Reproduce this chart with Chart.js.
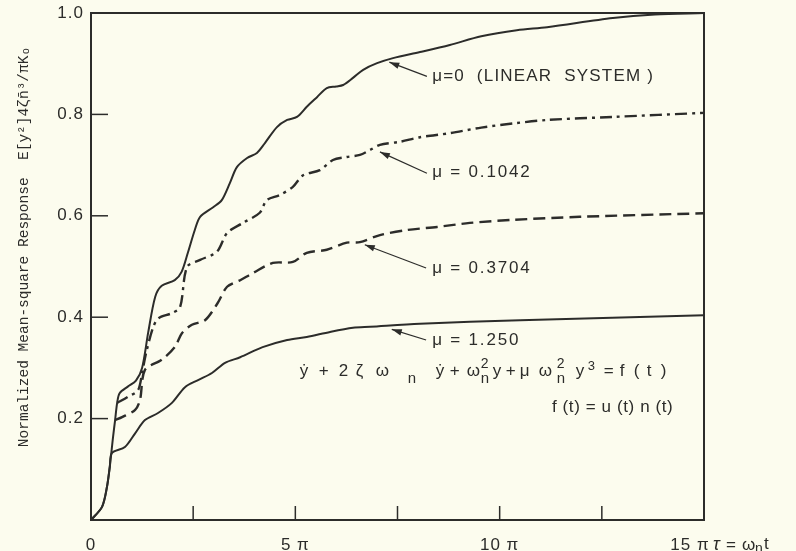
<!DOCTYPE html>
<html><head><meta charset="utf-8">
<script src="https://cdn.jsdelivr.net/npm/chart.js@4"></script>
<style>html,body{margin:0;padding:0;background:#fcfcee;overflow:hidden}canvas{display:block}</style>
</head><body>
<canvas id="c" width="796" height="551"></canvas>
<script>
// ---- data (x in units of pi, y normalized mean-square response) ----
const mu0_t = [0,0.27,0.39,0.46,0.54,0.59,0.64,0.7,0.9,1.1,1.25,1.4,1.57,1.73,2.05,2.22,2.37,2.54,2.67,2.99,3.2,3.4,3.57,3.82,4.06,4.26,4.55,4.8,5.04,5.28,5.53,5.77,6.0,6.17,6.41,6.66,7.0,7.39,8.05,8.78,9.55,10.42,11.16,12.77,13.8,15];
const mu0_v = [0,0.026,0.065,0.105,0.164,0.197,0.231,0.25,0.263,0.275,0.30,0.37,0.44,0.462,0.473,0.49,0.527,0.572,0.598,0.617,0.631,0.665,0.696,0.714,0.724,0.744,0.775,0.789,0.795,0.815,0.834,0.852,0.855,0.858,0.872,0.888,0.901,0.911,0.923,0.937,0.954,0.966,0.972,0.99,0.997,1.0];

const mu1042_t = [0.64,0.9,1.15,1.25,1.35,1.52,1.65,1.98,2.18,2.35,2.67,3.08,3.33,3.72,4.13,4.3,4.62,4.94,5.19,5.6,5.92,6.26,6.58,6.83,7.07,7.56,8.05,8.78,9.55,10.42,11.16,12.77,15];
const mu1042_v = [0.231,0.243,0.256,0.29,0.33,0.38,0.398,0.408,0.42,0.499,0.513,0.529,0.566,0.586,0.606,0.631,0.641,0.657,0.68,0.69,0.71,0.716,0.72,0.73,0.74,0.746,0.755,0.763,0.774,0.783,0.789,0.795,0.803];

const mu3704_t = [0.59,0.76,1.08,1.2,1.32,1.73,2.05,2.23,2.47,2.79,3.1,3.33,3.65,3.96,4.45,4.94,5.28,5.77,6.26,6.58,7.07,7.73,8.47,9.27,10.33,11.96,15];
const mu3704_v = [0.197,0.203,0.217,0.237,0.296,0.316,0.341,0.369,0.385,0.394,0.428,0.46,0.473,0.487,0.507,0.509,0.527,0.533,0.547,0.548,0.562,0.572,0.578,0.586,0.592,0.598,0.605];

const mu125_t = [0,0.27,0.39,0.46,0.51,0.83,1.08,1.32,1.64,1.98,2.3,2.62,2.96,3.28,3.65,4.2,4.8,5.28,5.85,6.41,6.83,8.05,10.5,15];
const mu125_v = [0,0.026,0.065,0.105,0.132,0.144,0.171,0.197,0.211,0.231,0.262,0.276,0.29,0.31,0.321,0.341,0.355,0.361,0.371,0.379,0.381,0.387,0.394,0.404];

const xTickValues = [0,2.5,5,7.5,10,12.5,15];
const xTickLabels = ['0','','5 π','','10 π','','15 π'];
const yTickValues = [0.2,0.4,0.6,0.8,1.0];
const yTickLabels = ['0.2','0.4','0.6','0.8','1.0'];

const seriesLabels = ['μ=0  (LINEAR  SYSTEM )','μ = 0.1042','μ = 0.3704','μ = 1.250'];
const yTitle = 'Normalized Mean-square Response  E[y²]4ζn̄³/πKₒ';

// annotation anchors in data units: arrow tip on curve, arrow tail, text
const notes = [
  {tip:[7.3,0.903], tail:[8.22,0.875], text:[8.35,0.876]},
  {tip:[7.07,0.726], tail:[8.22,0.684], text:[8.35,0.685]},
  {tip:[6.7,0.543], tail:[8.2,0.497], text:[8.35,0.497]},
  {tip:[7.36,0.376], tail:[8.2,0.355], text:[8.35,0.355]}
];

// equation tokens: text, x offset (px from start), kind
const eqTokens = [
  ['ẏ',0],['+',19],['2',39],['ζ',56],['ω',76],['n',108,'sub'],['ẏ',136],['+',150],['ω',167],
  ['2',181,'sup'],['n',181,'sub'],['y',193],['+',206],['μ',220],['ω',239],['2',257,'sup'],['n',257,'sub'],
  ['y',276],['3',288,'sup3'],['=',304],['f',320],['(',334],['t',347],[')',361]
];

const pts = (t,v) => t.map((x,i)=>({x:x,y:v[i]}));
const INK = '#2c2c2a';
const FONT = '"Liberation Sans", Arial, sans-serif';

function arrow(ctx, x0,y0,x1,y1){
  ctx.beginPath(); ctx.moveTo(x0,y0); ctx.lineTo(x1,y1); ctx.stroke();
  const a = Math.atan2(y1-y0,x1-x0), L=10, W=3.2;
  ctx.beginPath();
  ctx.moveTo(x1,y1);
  ctx.lineTo(x1-L*Math.cos(a)+W*Math.sin(a), y1-L*Math.sin(a)-W*Math.cos(a));
  ctx.lineTo(x1-L*Math.cos(a)-W*Math.sin(a), y1-L*Math.sin(a)+W*Math.cos(a));
  ctx.closePath(); ctx.fill();
}

const deco = {
  id:'deco',
  afterDatasetsDraw(chart){
    const ctx = chart.ctx, xs = chart.scales.x, ys = chart.scales.y, a = chart.chartArea;
    ctx.save();
    ctx.strokeStyle = INK; ctx.fillStyle = INK;
    // frame
    ctx.lineWidth = 2;
    ctx.strokeRect(a.left, a.top, a.right-a.left, a.bottom-a.top);
    // ticks
    ctx.lineWidth = 1.5;
    for(const v of xTickValues){
      const px = xs.getPixelForValue(v);
      if(v>0 && v<15){ ctx.beginPath(); ctx.moveTo(px,a.bottom); ctx.lineTo(px,a.bottom-14); ctx.stroke(); }
    }
    for(const v of yTickValues){
      const py = ys.getPixelForValue(v);
      if(v<1){ ctx.beginPath(); ctx.moveTo(a.left,py); ctx.lineTo(a.left+17,py); ctx.stroke(); }
    }
    // tick labels
    ctx.font = '17px '+FONT; ctx.textBaseline='middle';
    ctx.letterSpacing = '1px';
    ctx.textAlign='right';
    yTickValues.forEach((v,i)=>{ ctx.fillText(yTickLabels[i], a.left-7, ys.getPixelForValue(v)); });
    ctx.textAlign='center';
    xTickValues.forEach((v,i)=>{
      if(!xTickLabels[i]) return;
      let px = xs.getPixelForValue(v);
      if(v===15) px -= 14;
      ctx.fillText(xTickLabels[i], px, a.bottom+25);
    });
    ctx.letterSpacing = '0px';
    // x axis title
    ctx.textAlign='left';
    let tx = xs.getPixelForValue(15)+9;
    ctx.font = 'italic 18px '+FONT; ctx.fillText('τ', tx, a.bottom+25); tx += 13;
    ctx.font = '17px '+FONT; ctx.fillText('=', tx, a.bottom+25); tx += 16;
    ctx.fillText('ω', tx, a.bottom+25); tx += 13;
    ctx.font = '14px '+FONT; ctx.fillText('n', tx, a.bottom+29); tx += 9;
    ctx.font = '17px '+FONT; ctx.fillText('t', tx, a.bottom+24);
    // y axis title
    ctx.save();
    ctx.translate(24, 247); ctx.rotate(-Math.PI/2);
    ctx.font = '14.5px "Liberation Mono", "DejaVu Sans Mono", monospace';
    ctx.textAlign='center'; ctx.textBaseline='middle';
    ctx.fillText(yTitle, 0, 0);
    ctx.restore();
    // annotations
    ctx.lineWidth = 1.2;
    notes.forEach((n,i)=>{
      arrow(ctx, xs.getPixelForValue(n.tail[0]), ys.getPixelForValue(n.tail[1]),
                 xs.getPixelForValue(n.tip[0]), ys.getPixelForValue(n.tip[1]));
      ctx.font = '17px '+FONT; ctx.textAlign='left'; ctx.textBaseline='middle';
      ctx.letterSpacing = i===0 ? '1.2px' : '1.8px';
      ctx.fillText(seriesLabels[i], xs.getPixelForValue(n.text[0]), ys.getPixelForValue(n.text[1]));
      ctx.letterSpacing = '0px';
    });
    // equations
    const ex = xs.getPixelForValue(5.11), ey = ys.getPixelForValue(0.293);
    ctx.textAlign='left'; ctx.textBaseline='middle';
    for(const [t,dx,k] of eqTokens){
      if(k==='sub'){ ctx.font='15px '+FONT; ctx.fillText(t, ex+dx, ey+7); }
      else if(k==='sup'){ ctx.font='14px '+FONT; ctx.fillText(t, ex+dx, ey-7); }
      else if(k==='sup3'){ ctx.font='13px '+FONT; ctx.fillText(t, ex+dx, ey-5); }
      else { ctx.font='17px '+FONT; ctx.fillText(t, ex+dx, ey); }
    }
    ctx.font = '17px '+FONT; ctx.textAlign='right';
    ctx.letterSpacing = '0.6px';
    ctx.fillText('f (t) = u (t) n (t)', xs.getPixelForValue(14.25), ys.getPixelForValue(0.223));
    ctx.letterSpacing = '0px';
    ctx.restore();
  }
};

const bg = {
  id:'bg',
  beforeDraw(chart){ const c=chart.ctx; c.save(); c.fillStyle='#fcfcee'; c.fillRect(0,0,chart.width,chart.height); c.restore(); }
};

new Chart(document.getElementById('c'), {
  type:'line',
  data:{ datasets:[
    {label:seriesLabels[0], data:pts(mu0_t,mu0_v), borderColor:INK, borderWidth:2},
    {label:seriesLabels[1], data:pts(mu1042_t,mu1042_v), borderColor:INK, borderWidth:2.4, borderDash:[12,5,3,5]},
    {label:seriesLabels[2], data:pts(mu3704_t,mu3704_v), borderColor:INK, borderWidth:2.4, borderDash:[12,6]},
    {label:seriesLabels[3], data:pts(mu125_t,mu125_v), borderColor:INK, borderWidth:2}
  ]},
  options:{
    responsive:false, animation:false, devicePixelRatio:1,
    layout:{padding:{left:91, right:92, top:13, bottom:31}},
    elements:{point:{radius:0}, line:{tension:0.3, fill:false}},
    plugins:{legend:{display:false}, tooltip:{enabled:false}},
    scales:{
      x:{type:'linear', min:0, max:15, display:false},
      y:{type:'linear', min:0, max:1, display:false}
    }
  },
  plugins:[bg, deco]
});
</script>
</body></html>
